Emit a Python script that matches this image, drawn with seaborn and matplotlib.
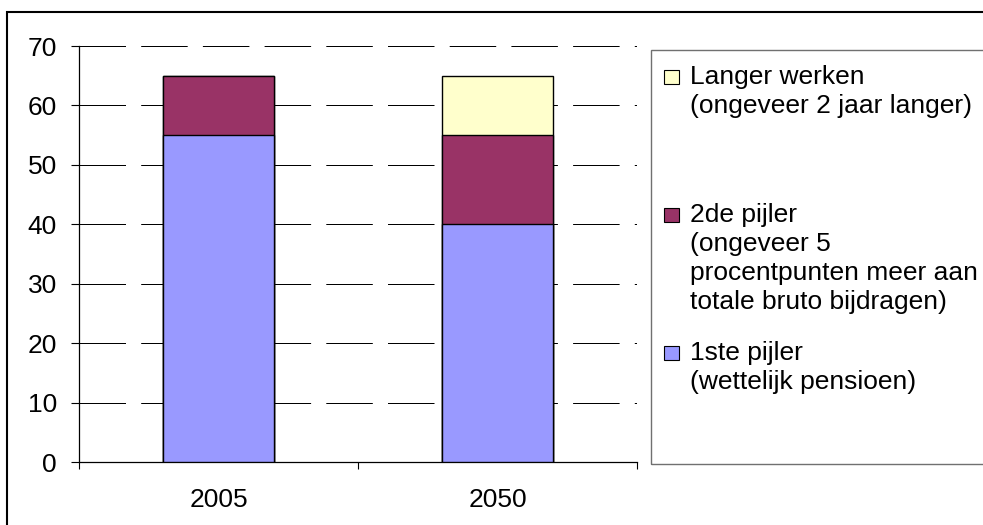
import matplotlib
matplotlib.use("Agg")
import matplotlib.pyplot as plt
from matplotlib.patches import Rectangle
import seaborn as sns
import numpy as np

# ---- data ----
years = ["2005", "2050"]
pijler1 = [55, 40]       # 1ste pijler (wettelijk pensioen)
pijler2 = [10, 15]       # 2de pijler
langer = [0, 10]         # Langer werken
y_ticks = [0, 10, 20, 30, 40, 50, 60, 70]

labels = [
    ["Langer werken", "(ongeveer 2 jaar langer)"],
    ["2de pijler", "(ongeveer 5", "procentpunten meer aan", "totale bruto bijdragen)"],
    ["1ste pijler", "(wettelijk pensioen)"],
]
colors = ["#FFFFCC", "#993366", "#9999FF"]

sns.set_style("white")
plt.rcParams["font.family"] = ["Liberation Sans", "DejaVu Sans"]

FS = 19
W, H = 983, 525
fig = plt.figure(figsize=(W / 100, H / 100), dpi=100)
ax = fig.add_axes([79 / W, 1 - 462 / H, (637 - 79) / W, (462 - 46) / H])

p1 = np.array(pijler1)
p12 = p1 + np.array(pijler2)
p123 = p12 + np.array(langer)

for vals, col in [(p123, colors[0]), (p12, colors[1]), (p1, colors[2])]:
    sns.barplot(x=years, y=vals, color=col, saturation=1, width=0.4,
                edgecolor="black", linewidth=1.0, ax=ax, zorder=3)

ax.set_xlim(-0.5, 1.5)
ax.set_ylim(0, 70)
ax.set_yticks(y_ticks)
ax.set_xticks([0, 1])
ax.set_xticklabels(years)
ax.set_xticks([-0.5, 0.5, 1.5], minor=True)
ax.set_xlabel("")
ax.set_ylabel("")

ax.tick_params(axis="x", which="major", length=0, pad=19, labelsize=FS, colors="black")
ax.tick_params(axis="x", which="minor", length=5, width=0.8, direction="out", color="black", bottom=True)
ax.tick_params(axis="y", which="major", length=5.8, width=0.8, direction="out", pad=10,
               labelsize=FS, colors="black", left=True)

for s in ["top", "right"]:
    ax.spines[s].set_visible(False)
for s in ["left", "bottom"]:
    ax.spines[s].set_color("black")
    ax.spines[s].set_linewidth(0.9)

ax.set_axisbelow(True)
ax.yaxis.grid(True, color="black", linewidth=0.72, linestyle=(0, (46.5, 15.2)))
ax.xaxis.grid(False)

# legend box (manual, to mimic Excel-style spread entries)
fig.patches.append(Rectangle((651 / W, 1 - 464 / H), 1.0, (464 - 50) / H,
                             transform=fig.transFigure, fill=False,
                             edgecolor="#707070", linewidth=1.0))
baselines = [84, 222, 360]
pitch = 29
for lab, col, yb in zip(labels, colors, baselines):
    fig.patches.append(Rectangle((664 / W, 1 - yb / H), 15 / W, 14 / H,
                                 transform=fig.transFigure, facecolor=col,
                                 edgecolor="black", linewidth=0.8))
    for i, line in enumerate(lab):
        fig.text(690 / W, 1 - (yb + i * pitch) / H, line, fontsize=FS,
                 va="baseline", ha="left", color="black")

# outer chart border
fig.patches.append(Rectangle((7 / W, -0.1), 2.0, (1 - 12 / H) + 0.1,
                             transform=fig.transFigure, fill=False,
                             edgecolor="black", linewidth=1.5))

fig.savefig("out.png", dpi=100)
